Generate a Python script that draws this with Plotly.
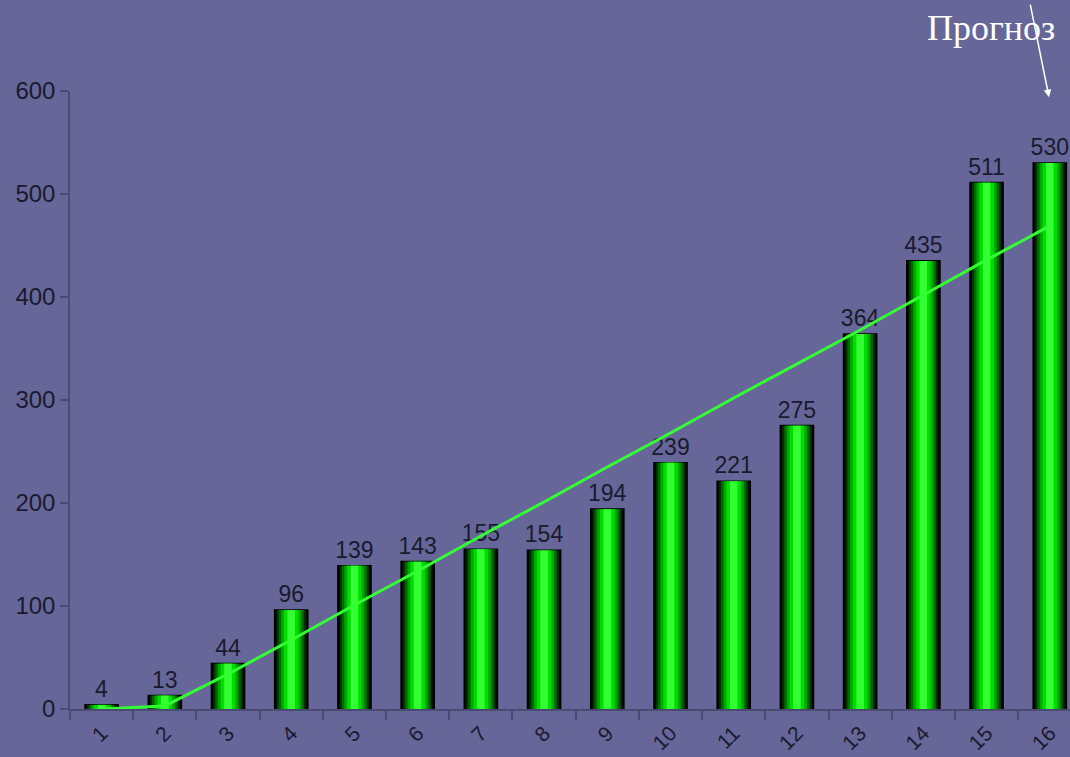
import plotly.graph_objects as go

categories = list(range(1, 17))
tick_labels = [str(c) for c in categories]
values = [4, 13, 44, 96, 139, 143, 155, 154, 194, 239, 221, 275, 364, 435, 511, 530]
trend = [0, 3, 34, 67, 101, 134, 168, 201, 235, 268, 302, 335, 368, 402, 436, 469]

BG = "#666699"
AXIS = "#4a4a72"
TXT = "#1a1a2e"

fig = go.Figure()

layers = [
    (0.52, "#000d00", 1.8),
    (0.46, "#003300", 0),
    (0.40, "#006a00", 0),
    (0.32, "#00a800", 0),
    (0.23, "#00dd00", 0),
    (0.12, "#33ff33", 0),
]
for i, (w, col, lw) in enumerate(layers):
    fig.add_trace(go.Bar(
        x=categories, y=values, width=w,
        marker=dict(color=col, line=dict(color="#000000", width=lw)),
        text=[str(v) for v in values] if i == 0 else None,
        textposition="outside" if i == 0 else "none",
        constraintext="none",
        textfont=dict(family="Liberation Sans, Arial", size=23, color=TXT),
        cliponaxis=False, hoverinfo="skip", showlegend=False,
    ))

fig.add_trace(go.Scatter(
    x=categories, y=trend, mode="lines",
    line=dict(color="#33ff33", width=3),
    showlegend=False, hoverinfo="skip",
))

fig.update_layout(
    width=1070, height=757,
    margin=dict(l=70, r=0, t=91, b=48),
    paper_bgcolor=BG, plot_bgcolor=BG,
    barmode="overlay",
    font=dict(family="Liberation Sans, Arial", color=TXT),
    xaxis=dict(
        range=[0.5, 16.32], automargin=False,
        tickmode="array", tickvals=categories, ticktext=tick_labels,
        tickangle=-45, ticks="", showgrid=False, zeroline=False,
        showline=True, linecolor=AXIS, linewidth=1.5,
        tickfont=dict(size=21, color=TXT),
        ticklabelstandoff=2,
        minor=dict(ticks="outside", tickmode="array",
                   tickvals=[c - 0.5 for c in categories],
                   ticklen=9, tickcolor=AXIS, tickwidth=1.5, showgrid=False),
    ),
    yaxis=dict(
        range=[0, 600], automargin=False,
        tickmode="array", tickvals=[0, 100, 200, 300, 400, 500, 600],
        ticks="outside", ticklen=8, tickcolor=AXIS, tickwidth=1.5,
        showgrid=False, zeroline=False,
        showline=True, linecolor=AXIS, linewidth=1.5,
        tickfont=dict(size=24, color=TXT),
    ),
)

# extend x axis line slightly to the left of the y axis
fig.add_shape(type="line", xref="paper", yref="y",
              x0=-0.01, x1=0, y0=0, y1=0,
              line=dict(color=AXIS, width=1.5))

fig.add_annotation(
    xref="paper", yref="paper", x=0.921, y=1.102,
    xanchor="center", yanchor="middle",
    text="Прогноз", showarrow=False,
    font=dict(family="Liberation Serif, Times New Roman", size=36, color="white"),
)
fig.add_annotation(
    xref="paper", yref="paper", x=0.979, y=0.990,
    text="", showarrow=True, ax=-19, ay=-94,
    arrowhead=2, arrowsize=1, arrowwidth=1.5, arrowcolor="white",
)

fig.write_html("out.html", config={"displayModeBar": False},
               post_script="document.body.style.margin='0';document.body.style.overflow='hidden';")
